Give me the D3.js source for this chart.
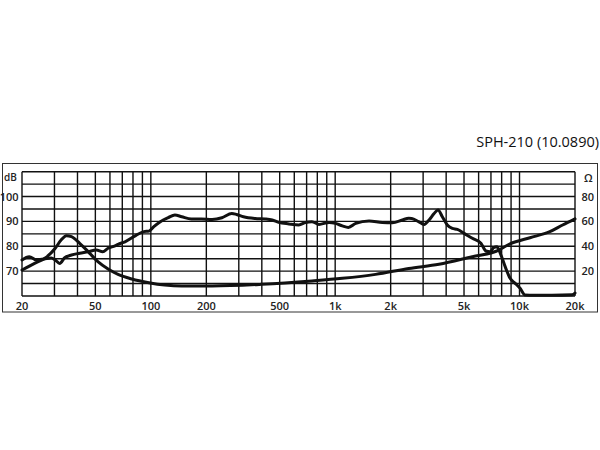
<!DOCTYPE html>
<html>
<head>
<meta charset="utf-8">
<script src="https://cdn.jsdelivr.net/npm/d3@7"></script>
<style>
  html, body { margin: 0; padding: 0; background: #fff; }
  svg { display: block; }
</style>
</head>
<body>
<svg id="chart" width="600" height="450"></svg>
<script>
const title = "SPH-210 (10.0890)";
const xTickLabels = [
  [20, "20"], [50, "50"], [100, "100"], [200, "200"], [500, "500"],
  [1000, "1k"], [2000, "2k"], [5000, "5k"], [10000, "10k"], [20000, "20k"]
];
const xGrid = [20,30,40,50,60,70,80,90,100,200,300,400,500,600,700,800,900,
               1000,2000,3000,4000,5000,6000,7000,8000,9000,10000,20000];
const dbTicks = [70, 80, 90, 100];
const ohmTicks = [20, 40, 60, 80];

// SPL curve (dB)
const splFreq = [20, 21.9, 23.9, 26.4, 28.8, 30.3, 32.0, 34.1, 37.1, 41.1, 45.7, 50.6, 54.8, 58.6, 63.9, 66.4,
  72.4, 82.7, 91.6, 97.6, 103.8, 112.6, 124.2, 135, 147, 166, 188, 215, 243, 275, 292, 318, 368, 418, 455,
  494, 561, 635, 690, 748, 817, 927, 1005, 1094, 1179, 1293, 1526, 1803, 2043, 2314, 2507, 2600, 2835,
  3037, 3232, 3440, 3613, 3812, 4058, 4321, 4600, 5005, 5546, 6175, 6580, 6930, 7230, 7540, 7860, 8360,
  8890, 9470, 10070, 10720, 12000, 15000, 19300, 20000];
const splDb = [74.5, 75.8, 74.5, 74.9, 75.3, 74.5, 73.1, 75.4, 76.5, 77.2, 77.8, 78.5, 77.8, 79.2, 80.2, 80.8,
  81.8, 84.3, 85.9, 86.1, 87.9, 89.9, 91.5, 92.6, 91.9, 91.0, 91.0, 90.8, 91.5, 93.2, 92.8, 91.9, 91.2, 91.0, 90.6,
  89.6, 89.0, 88.6, 89.6, 89.9, 88.8, 89.6, 89.2, 88.2, 87.6, 89.2, 90.2, 89.6, 89.5, 90.6, 91.3, 91.2, 89.9,
  88.8, 90.6, 93.2, 94.6, 91.9, 88.6, 87.2, 86.8, 85.2, 83.2, 81.2, 78.1, 77.8, 79.4, 79.8, 77.2, 71.8,
  67.1, 65.1, 63.1, 60.4, 60.3, 60.3, 60.5, 61.2];

// Impedance curve (Ohm)
const impFreq = [20, 23.4, 26.6, 30.3, 32.6, 34.8, 37.1, 41.1, 45.7, 51.6, 58.6, 66.4, 78.9, 97.6, 119, 147,
  215, 400, 748, 1094, 1656, 2507, 3656, 5546, 7470, 8890, 11400, 14600, 17140, 20000];
const impOhm = [20.9, 26.3, 30.3, 38.4, 45.0, 48.5, 47.7, 42.4, 35.7, 27.6, 21.7, 17.4, 13.7, 10.7, 8.8, 8.0,
  8.0, 9.4, 12.1, 14.2, 17.4, 22.2, 25.5, 31.6, 36.0, 42.0, 46.9, 51.7, 57.1, 62.0];

const svg = d3.select("#chart");
const pLeft = 22, pRight = 575, pTop = 171.7, pBottom = 296;
const x = d3.scaleLog().domain([20, 20000]).range([pLeft, pRight]);
const yDb = d3.scaleLinear().domain([60, 110]).range([pBottom, pTop]);
const yOhm = d3.scaleLinear().domain([0, 100]).range([pBottom, pTop]);

const font = "'Open Sans', 'Noto Sans', sans-serif";

// title
svg.append("text").attr("x", 599).attr("y", 147).attr("text-anchor", "end")
  .attr("font-family", font).attr("font-size", 14.5).attr("fill", "#111").text(title);

// outer frame
svg.append("rect").attr("x", 2.5).attr("y", 163.5).attr("width", 595).attr("height", 148.5)
  .attr("fill", "none").attr("stroke", "#333").attr("stroke-width", 1);

// grid
const g = svg.append("g");
g.selectAll("line.v").data(xGrid).join("line")
  .attr("x1", d => x(d)).attr("x2", d => x(d)).attr("y1", pTop).attr("y2", pBottom)
  .attr("stroke", "#111").attr("stroke-width", 1.4);
g.selectAll("line.h").data(d3.range(60, 111, 5)).join("line")
  .attr("x1", pLeft).attr("x2", pRight).attr("y1", d => yDb(d)).attr("y2", d => yDb(d))
  .attr("stroke", "#111").attr("stroke-width", 1.4);

// x labels
svg.selectAll("text.xl").data(xTickLabels).join("text")
  .attr("x", d => x(d[0])).attr("y", 309.5).attr("text-anchor", "middle")
  .attr("font-family", font).attr("font-size", 11).attr("font-weight", 600).attr("fill", "#222")
  .text(d => d[1]);

// dB labels
svg.selectAll("text.dl").data(dbTicks).join("text")
  .attr("x", 18.5).attr("y", d => yDb(d) + 4).attr("text-anchor", "end")
  .attr("font-family", font).attr("font-size", 11).attr("font-weight", 600).attr("fill", "#222")
  .text(d => d);
svg.append("text").attr("x", 4).attr("y", yDb(107.5) + 3.5)
  .attr("font-family", font).attr("font-size", 10).attr("font-weight", 600).attr("fill", "#222").text("dB");

// Ohm labels
svg.selectAll("text.ol").data(ohmTicks).join("text")
  .attr("x", 581.5).attr("y", d => yOhm(d) + 4)
  .attr("font-family", font).attr("font-size", 11).attr("font-weight", 600).attr("fill", "#222")
  .text(d => d);
svg.append("text").attr("x", 584).attr("y", yOhm(95) + 3.8)
  .attr("font-family", font).attr("font-size", 11).attr("font-weight", 600).attr("fill", "#222").text("Ω");

// curves
const splLine = d3.line().x((d, i) => x(splFreq[i])).y(d => yDb(d)).curve(d3.curveMonotoneX);
const impLine = d3.line().x((d, i) => x(impFreq[i])).y(d => yOhm(d)).curve(d3.curveMonotoneX);
svg.append("path").attr("d", impLine(impOhm)).attr("fill", "none")
  .attr("stroke", "#111").attr("stroke-width", 3).attr("stroke-linejoin", "round").attr("stroke-linecap", "round");
svg.append("path").attr("d", splLine(splDb)).attr("fill", "none")
  .attr("stroke", "#111").attr("stroke-width", 3).attr("stroke-linejoin", "round").attr("stroke-linecap", "round");
</script>
</body>
</html>
